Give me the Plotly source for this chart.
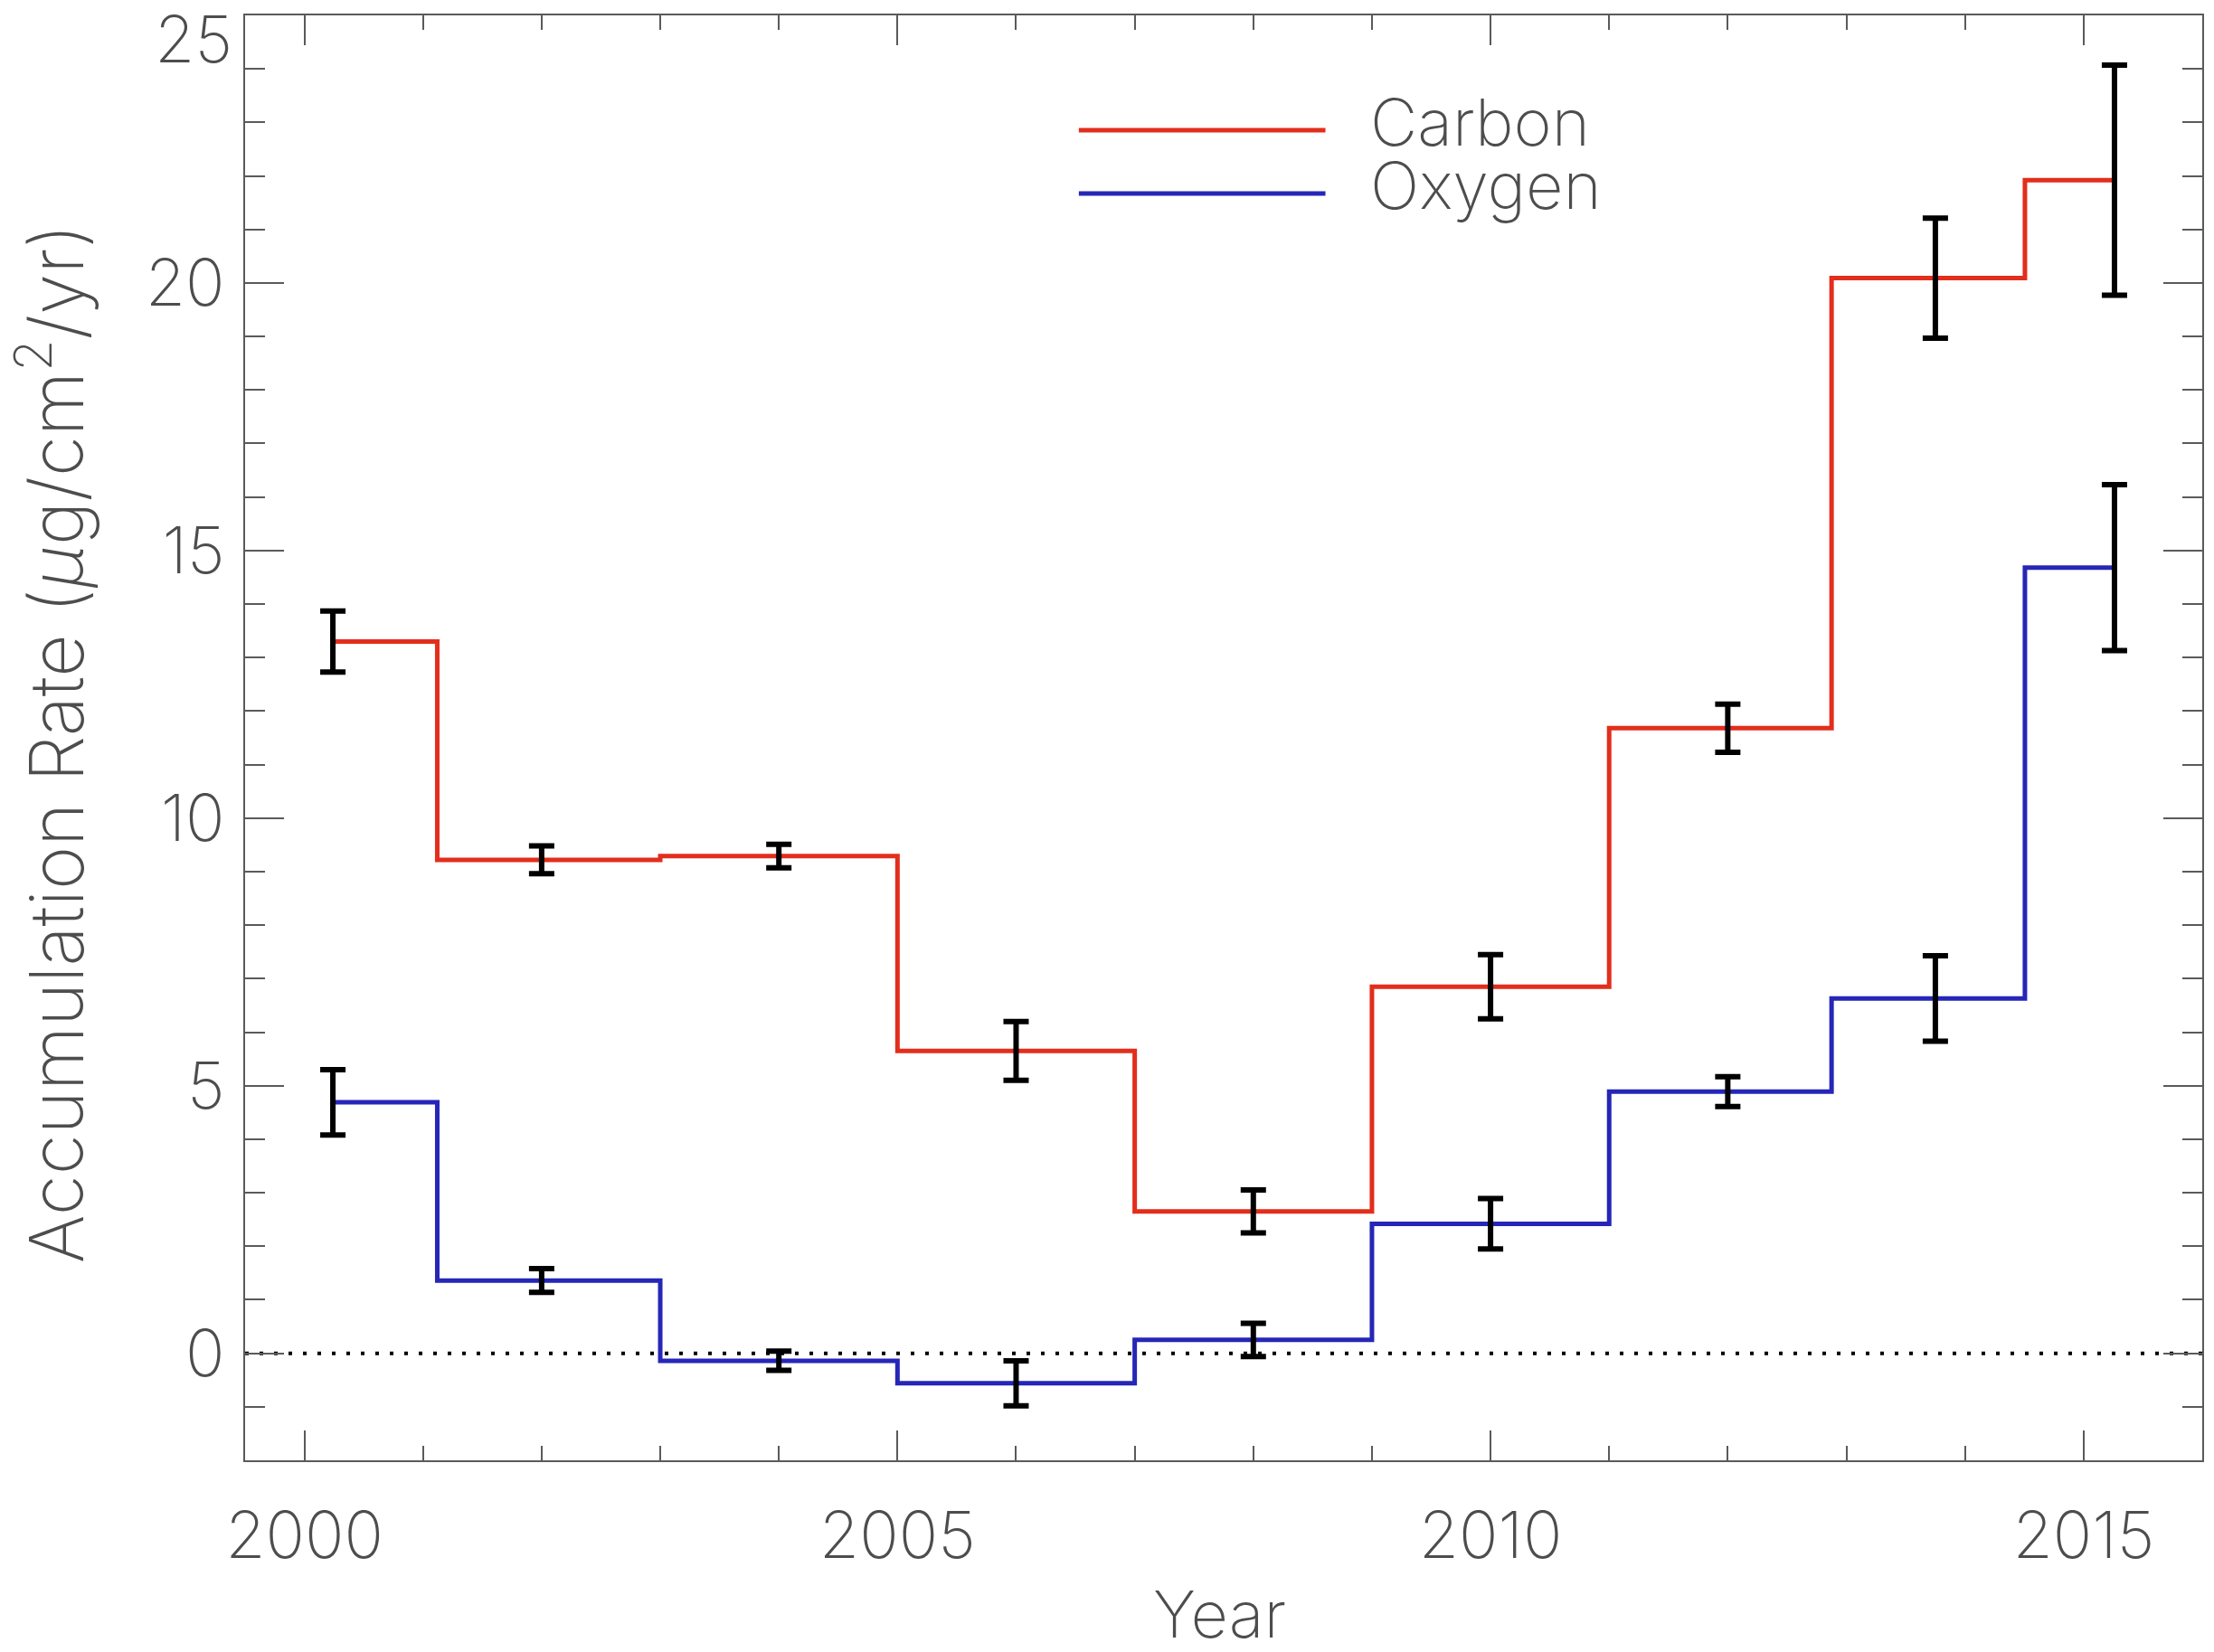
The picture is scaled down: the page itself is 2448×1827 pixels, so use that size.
import plotly.graph_objects as go

# Epoch centres (decimal year) and accumulation rates with 1-sigma errors
years = [2000.24, 2002.0, 2004.0, 2006.0, 2008.0, 2010.0, 2012.0, 2013.75, 2015.26]
carbon = [13.30, 9.22, 9.29, 5.65, 2.65, 6.85, 11.68, 20.09, 21.92]
carbon_err = [0.57, 0.26, 0.22, 0.55, 0.40, 0.60, 0.45, 1.12, 2.15]
oxygen = [4.69, 1.36, -0.14, -0.56, 0.25, 2.42, 4.89, 6.63, 14.68]
oxygen_err = [0.61, 0.22, 0.18, 0.42, 0.31, 0.47, 0.28, 0.80, 1.55]

series_names = ["Carbon", "Oxygen"]
series_colors = ["rgb(226,46,28)", "rgb(38,38,184)"]

y_tickvals = [0, 5, 10, 15, 20]
x_tickvals = [2000, 2005, 2010, 2015]

FONT = "Inter"
WEIGHT = 200
TXT = "#4d4d4d"
AX = "#5a5a5a"
FS = 72

fig = go.Figure()

# Histogram-style step lines
for name, vals, col in zip(series_names, [carbon, oxygen], series_colors):
    fig.add_trace(go.Scatter(
        x=years, y=vals, mode="lines", name=name,
        line=dict(color=col, width=5, shape="hvh"),
        showlegend=False, hoverinfo="skip",
    ))

# Error bars drawn on top of the steps
for vals, errs in [(carbon, carbon_err), (oxygen, oxygen_err)]:
    fig.add_trace(go.Scatter(
        x=years, y=vals, mode="markers",
        marker=dict(size=1, color="rgba(0,0,0,0)"),
        error_y=dict(type="data", array=errs, visible=True,
                     color="black", thickness=6, width=14),
        showlegend=False, hoverinfo="skip",
    ))

# Zero reference line
fig.add_shape(type="line", xref="paper", x0=0, x1=1, yref="y", y0=0, y1=0,
              line=dict(color="black", width=4, dash="4px,12px"), layer="below")

# Legend: long line samples with labels
leg_y = [0.9205, 0.8767]
for name, col, ly in zip(series_names, series_colors, leg_y):
    fig.add_shape(type="line", xref="paper", yref="paper",
                  x0=0.426, x1=0.552, y0=ly, y1=ly,
                  line=dict(color=col, width=5))
    fig.add_annotation(xref="paper", yref="paper", x=0.574, y=ly + 0.006,
                       text=name, showarrow=False, xanchor="left", yanchor="middle",
                       font=dict(family=FONT, size=FS, color=TXT, weight=WEIGHT))

axis_common = dict(
    showline=True, linecolor=AX, linewidth=2, mirror="ticks",
    ticks="inside", tickcolor=AX, tickwidth=2,
    showgrid=False, zeroline=False,
    tickfont=dict(family=FONT, size=FS, color=TXT, weight=WEIGHT),
)

fig.update_xaxes(
    range=[1999.5, 2016.0], tickvals=x_tickvals, ticklen=33,
    ticklabelstandoff=20,
    minor=dict(ticks="inside", dtick=1, tick0=2000, ticklen=16,
               tickcolor=AX, tickwidth=2, showgrid=False),
    **axis_common,
)
fig.update_yaxes(
    range=[-2, 25], tickvals=y_tickvals,
    ticklen=43, ticklabelstandoff=6,
    minor=dict(ticks="inside", dtick=1, tick0=0, ticklen=22,
               tickcolor=AX, tickwidth=2, showgrid=False),
    **axis_common,
)

# Top y label sits inside the frame height
fig.add_annotation(xref="paper", yref="y", x=0, y=25, xshift=-12, yshift=20,
                   text="25", showarrow=False, xanchor="right", yanchor="top",
                   font=dict(family=FONT, size=FS, color=TXT, weight=WEIGHT))

# Axis titles
fig.add_annotation(xref="paper", yref="paper", x=0.498, y=-0.106,
                   text="Year", showarrow=False, xanchor="center", yanchor="middle",
                   font=dict(family=FONT, size=FS, color=TXT, weight=WEIGHT))
fig.add_annotation(xref="paper", yref="paper", x=-0.099, y=0.496,
                   text="Accumulation Rate (<i>μ</i>g/cm<sup>2</sup>/yr)",
                   textangle=-90, showarrow=False, xanchor="center", yanchor="middle",
                   font=dict(family=FONT, size=82, color=TXT, weight=WEIGHT))

fig.update_layout(
    width=2448, height=1827,
    margin=dict(l=271, r=11, t=17, b=212),
    paper_bgcolor="white", plot_bgcolor="white",
    showlegend=False,
)

fig.write_html("out.html")
